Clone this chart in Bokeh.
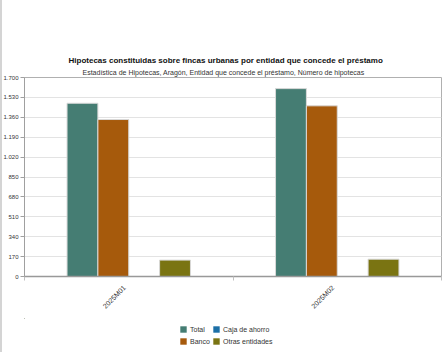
from bokeh.plotting import figure
from bokeh.layouts import column
from bokeh.models import (Range1d, FixedTicker, Title, Legend, LegendItem,
                          ColumnDataSource, InlineStyleSheet)
from bokeh.transform import dodge
from bokeh.embed import file_html
from bokeh.resources import INLINE
import math

categories = ["2025M01", "2025M02"]
total = [1480, 1605]
banco = [1341, 1458]
caja = [0, 0]
otras = [140, 148]
series_names = ["Total", "Banco", "Caja de ahorro", "Otras entidades"]
series_colors = ["#457d73", "#a65a0c", "#1c6fa6", "#7a7412"]
y_ticks = [0, 170, 340, 510, 680, 850, 1020, 1190, 1360, 1530, 1700]
y_tick_labels = ["0", "170", "340", "510", "680", "850", "1.020", "1.190", "1.360", "1.530", "1.700"]
title_text = "Hipotecas constituidas sobre fincas urbanas por entidad que concede el préstamo"
subtitle_text = "Estadística de Hipotecas, Aragón, Entidad que concede el préstamo, Número de hipotecas"

FONT = "Liberation Sans"
css = InlineStyleSheet(css=":host { background: white; box-shadow: inset 2px 0 0 #d4d4d4; }")

xpos = [i + 0.5 for i in range(len(categories))]
src = ColumnDataSource(dict(x=xpos, total=total, banco=banco, caja=caja, otras=otras))

p = figure(width=446, height=318, output_backend="svg", toolbar_location=None,
           title_location=None,
           x_range=Range1d(0, len(categories)), y_range=Range1d(0, 1700),
           min_border_left=23, min_border_right=5, min_border_top=77, min_border_bottom=42)
p.border_fill_color = None
p.background_fill_color = "white"
p.stylesheets = [css]

bw = 0.148
offsets = [-1.5 * bw, -0.5 * bw, 0.5 * bw, 1.5 * bw]
cols = ["total", "banco", "caja", "otras"]
for col, off, color in zip(cols, offsets, series_colors):
    p.vbar(x=dodge("x", off), top=col, width=bw, source=src,
           fill_color=color, line_color="#d9d9d9", line_width=1)

p.outline_line_color = "#b0b0b0"
p.xgrid.visible = False
p.ygrid.grid_line_color = "#e3e3e3"
p.ygrid.ticker = FixedTicker(ticks=y_ticks)

ya = p.yaxis[0]
ya.ticker = FixedTicker(ticks=y_ticks)
ya.major_label_overrides = {t: l for t, l in zip(y_ticks, y_tick_labels)}
ya.major_label_text_font = FONT
ya.major_label_text_font_size = "6px"
ya.major_label_text_color = "#333333"
ya.major_tick_out = 4
ya.major_tick_in = 0
ya.minor_tick_out = 0
ya.minor_tick_in = 0
ya.major_label_standoff = 2
ya.axis_line_color = "#a0a0a0"
ya.major_tick_line_color = "#a0a0a0"

# rotated labels sit with their end at the category centre
label_shift = -0.02
label_pos = [x + label_shift for x in xpos]
xa = p.xaxis[0]
xa.ticker = FixedTicker(ticks=label_pos, minor_ticks=list(range(len(categories) + 1)))
xa.major_label_overrides = {x: c for x, c in zip(label_pos, categories)}
xa.major_label_orientation = math.pi / 4
xa.major_label_text_font = FONT
xa.major_label_text_font_size = "7px"
xa.major_label_text_color = "#333333"
xa.major_tick_out = 0
xa.major_tick_in = 0
xa.minor_tick_out = 4
xa.minor_tick_in = 0
xa.minor_tick_line_color = "#c0c0c0"
xa.major_label_standoff = 6
xa.axis_line_color = "#999999"
xa.axis_line_width = 1.5

p.add_layout(Title(text=subtitle_text, align="left", text_font=FONT,
                   text_font_size="7px", text_font_style="normal",
                   text_color="#333333", standoff=4, offset=58), "above")
p.add_layout(Title(text=title_text, align="left", text_font=FONT,
                   text_font_size="8px", text_font_style="bold",
                   text_color="#111111", standoff=0, offset=44), "above")

# legend strip below the chart (its frame is aligned with the chart frame)
lf = figure(width=446, height=34, output_backend="svg", toolbar_location=None,
            title_location=None, x_range=Range1d(100, 101), y_range=Range1d(-1000, -990),
            min_border=0)
lf.axis.visible = False
lf.grid.visible = False
lf.outline_line_color = None
lf.border_fill_color = None
lf.background_fill_color = None
lf.stylesheets = [css]
lrs = []
for col, color in zip(cols, series_colors):
    r = lf.vbar(x="x", top=col, width=0, source=src, fill_color=color, line_color=None)
    lrs.append(r)

legend = Legend(items=[LegendItem(label=series_names[i], renderers=[lrs[i]]) for i in [0, 2, 1, 3]],
                ncols=2, orientation="horizontal", location=(155, 6),
                label_text_font=FONT, label_text_font_size="7px",
                label_text_color="#333333",
                glyph_width=8, glyph_height=8, label_standoff=3,
                spacing=2, padding=0, margin=0, border_line_color=None,
                label_height=10, label_width=20, background_fill_color=None)
lf.add_layout(legend, "center")

open("out.html", "w").write(file_html(column(p, lf, spacing=0), INLINE))
